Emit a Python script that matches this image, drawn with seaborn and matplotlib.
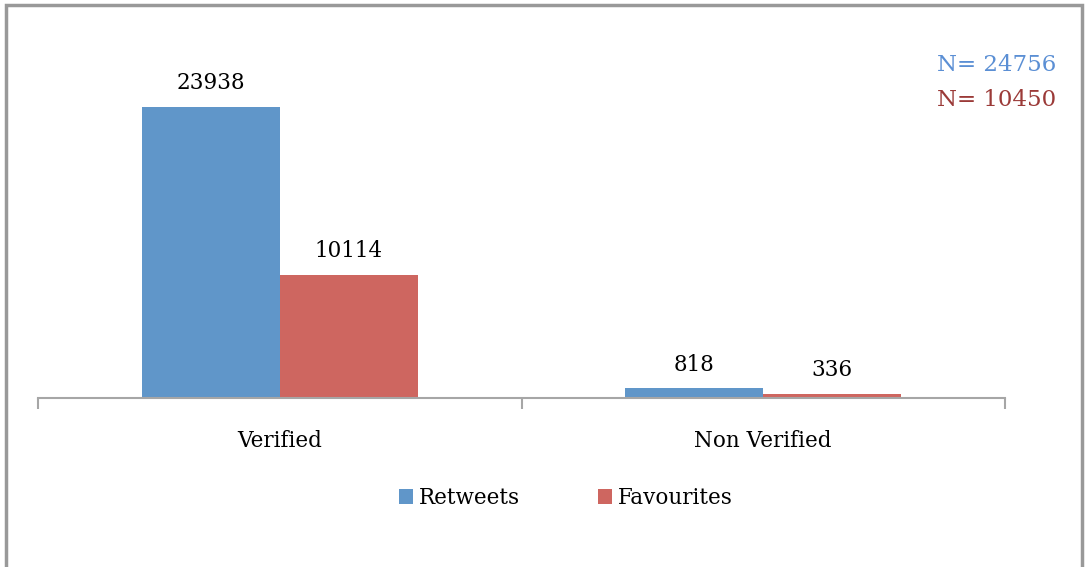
import matplotlib
import pandas as pd
import seaborn as sns
from matplotlib import pyplot as plt
from matplotlib.patches import Rectangle

matplotlib.use("Agg")

categories = ["Verified", "Non Verified"]
series = ["Retweets", "Favourites"]
retweets = [23938, 818]
favourites = [10114, 336]
totals = [24756, 10450]

colors = ["#6096C9", "#CE6660"]
n_colors = ["#5B8FD4", "#9B3A38"]

sns.set_style("white")
plt.rcParams["font.family"] = ["DejaVu Serif"]
plt.rcParams["text.color"] = "black"
plt.rcParams["xtick.color"] = "black"

df = pd.DataFrame(
    {
        "group": categories * 2,
        "kind": [series[0]] * 2 + [series[1]] * 2,
        "value": retweets + favourites,
    }
)

fig = plt.figure(figsize=(10.88, 5.67), dpi=100)
ax = fig.add_axes([38 / 1088, 1 - 398 / 567, 967 / 1088, 365 / 567])

sns.barplot(
    data=df,
    x="group",
    y="value",
    hue="kind",
    palette=colors,
    width=0.57,
    saturation=1,
    linewidth=0,
    ax=ax,
    legend=True,
)

ax.set_xlim(-0.5, 1.5)
ax.set_ylim(0, 30000)
ax.set_xlabel("")
ax.set_ylabel("")
ax.set_yticks([])
for s in ["top", "left", "right"]:
    ax.spines[s].set_visible(False)
ax.spines["bottom"].set_color("#A6A6A6")
ax.spines["bottom"].set_linewidth(1.5)

ax.set_xticks([0, 1])
ax.set_xticklabels(categories, fontsize=15.5, color="black")
ax.tick_params(axis="x", which="major", length=0, pad=23)
ax.set_xticks([-0.5, 0.5, 1.5], minor=True)
ax.tick_params(
    axis="x", which="minor", bottom=True, length=8, width=1.5, color="#A6A6A6"
)

for cont in ax.containers:
    ax.bar_label(cont, fmt="%d", padding=9, fontsize=15.5, color="black")

handles, labels = ax.get_legend_handles_labels()
leg = ax.legend(
    handles,
    labels,
    loc="center",
    bbox_to_anchor=(566 / 1088, 1 - 498 / 567),
    bbox_transform=fig.transFigure,
    ncol=2,
    frameon=False,
    fontsize=15.5,
    handlelength=0.65,
    handleheight=0.65,
    handletextpad=0.3,
    columnspacing=3.6,
)
for t in leg.get_texts():
    t.set_color("black")

for i, (n, c) in enumerate(zip(totals, n_colors)):
    fig.text(
        1056 / 1088,
        1 - (65 + i * 35) / 567,
        f"N= {n}",
        color=c,
        fontsize=16.5,
        ha="right",
        va="center",
    )

fig.patches.append(
    Rectangle(
        (6 / 1088, -0.05),
        (1082 - 6) / 1088,
        1.05 - 5 / 567,
        transform=fig.transFigure,
        fill=False,
        edgecolor="#999999",
        linewidth=2.5,
    )
)

fig.savefig("out.png", dpi=100)
